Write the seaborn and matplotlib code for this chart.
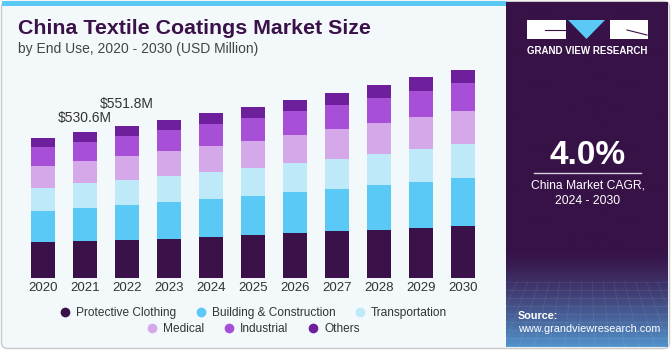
import numpy as np
import matplotlib
matplotlib.use("Agg")
import matplotlib.pyplot as plt
from matplotlib.patches import FancyBboxPatch, Rectangle, Polygon
from matplotlib.lines import Line2D
import seaborn as sns

# data (USD Million)
years = ["2020", "2021", "2022", "2023", "2024", "2025", "2026", "2027", "2028", "2029", "2030"]
protective = [131.7, 135.3, 139.0, 143.8, 149.9, 157.1, 163.2, 170.4, 176.5, 183.7, 191.0]
building = [113.6, 119.6, 125.4, 133.0, 137.8, 142.6, 148.7, 153.5, 160.8, 166.8, 174.1]
transport = [83.4, 89.4, 91.8, 94.3, 96.7, 101.5, 106.4, 110.0, 113.6, 119.7, 123.3]
medical = [78.5, 79.8, 85.6, 89.4, 94.3, 96.7, 100.3, 106.4, 111.2, 113.6, 118.5]
industrial = [68.9, 70.1, 73.7, 77.4, 79.8, 83.4, 87.0, 88.2, 91.9, 96.7, 100.3]
others = [33.8, 36.4, 36.3, 37.5, 39.9, 41.1, 42.3, 44.7, 47.1, 49.6, 49.6]

segments = ["Protective Clothing", "Building & Construction", "Transportation",
            "Medical", "Industrial", "Others"]
colors = ["#3a1149", "#5bc9f6", "#bee9f9", "#d5a8ea", "#a74fd7", "#6e1f9b"]
labels = {1: "$530.6M", 2: "$551.8M"}

FONT = "Liberation Sans"
W, H = 671, 350
fig = plt.figure(figsize=(W / 100, H / 100), dpi=100)
fig.patch.set_facecolor("white")

# background / frame in pixel coords
bg = fig.add_axes([0, 0, 1, 1])
bg.set_xlim(0, W)
bg.set_ylim(H, 0)
bg.axis("off")
bg.add_patch(FancyBboxPatch((1.5, 1.5), W - 3, H - 3, boxstyle="round,pad=0,rounding_size=6",
                            facecolor="#f3f8fb", edgecolor="#c9c9c9", lw=1))
bg.add_patch(Rectangle((2, 1), 504, 4.5, facecolor="#5bc9f6", lw=0))
# right panel with gradient to blue at the bottom
grad = np.linspace(0, 1, 200)
top = np.array([0x37, 0x12, 0x47]) / 255
bot = np.array([0x52, 0x92, 0xca]) / 255
t = np.clip((grad - 0.72) / 0.28, 0, 1) ** 1.3
img = top[None, :] * (1 - t[:, None]) + bot[None, :] * t[:, None]
bg.imshow(img[:, None, :], extent=(506, 668, 347, 2), aspect="auto", zorder=1)
for yy in np.linspace(282, 346, 9):
    bg.plot([506, 668], [yy, yy], color="white", alpha=0.08, lw=0.6, zorder=2)
for xx in np.linspace(506, 668, 16):
    bg.plot([xx, 587 + (xx - 587) * 1.4], [282, 347], color="white", alpha=0.08, lw=0.6, zorder=2)

# logo
bg.add_patch(Rectangle((527, 20), 39, 19, facecolor="white", lw=0, zorder=3))
bg.add_patch(Polygon([(568, 20), (605, 20), (586.5, 39)], facecolor="#5bc9f6", lw=0, zorder=3))
bg.add_patch(Rectangle((610, 20), 38, 19, facecolor="white", lw=0, zorder=3))
bg.plot([545, 566], [30, 30], color="#371247", lw=0.8, zorder=4)
bg.plot([627, 647], [30, 35], color="#371247", lw=0.8, zorder=4)
bg.text(587.5, 51, "GRAND VIEW RESEARCH", color="white", fontsize=7, fontweight="bold",
        ha="center", va="center", family=FONT, zorder=3)

bg.text(588, 155, "4.0%", color="white", fontsize=24, fontweight="bold",
        ha="center", va="center", family=FONT, zorder=3)
bg.plot([534, 641], [173, 173], color="#d9d0e0", lw=1, zorder=3)
bg.text(588, 185, "China Market CAGR,", color="white", fontsize=8.7,
        ha="center", va="center", family=FONT, zorder=3)
bg.text(588, 201, "2024 - 2030", color="white", fontsize=8.7,
        ha="center", va="center", family=FONT, zorder=3)
bg.text(518, 316, "Source:", color="white", fontsize=7.8, fontweight="bold",
        ha="left", va="center", family=FONT, zorder=3)
bg.text(518, 329, "www.grandviewresearch.com", color="white", fontsize=7.8,
        ha="left", va="center", family=FONT, zorder=3)

bg.text(18, 28, "China Textile Coatings Market Size", color="#3a1149", fontsize=15.4,
        fontweight="bold", ha="left", va="center", family=FONT)
bg.text(18, 49, "by End Use, 2020 - 2030 (USD Million)", color="#444444", fontsize=10,
        ha="left", va="center", family=FONT)

# bars
ax = fig.add_axes([17.8 / W, 71.7 / H, 470.7 / W, 220.6 / H])
ax.set_facecolor("none")
stack = np.array([protective, building, transport, medical, industrial, others])
cum = np.cumsum(stack, axis=0)
for i in range(len(segments) - 1, -1, -1):
    sns.barplot(x=years, y=cum[i], color=colors[i], width=0.57, saturation=1,
                linewidth=0, ax=ax)
totals = cum[-1]
label_gap = {1: 50, 2: 80}
for i, txt in labels.items():
    ax.text(i, totals[i] + label_gap[i], txt, ha="center", va="center", fontsize=10,
            color="#333333", family=FONT)
ax.set_xlim(-0.6, 10.6)
ax.set_ylim(0, 800)
ax.set_yticks([])
ax.set_xlabel("")
ax.set_ylabel("")
for s in ax.spines.values():
    s.set_visible(False)
ax.tick_params(axis="x", length=0, pad=3, labelsize=9.5, labelcolor="#333333")
for lab in ax.get_xticklabels():
    lab.set_family(FONT)

# legend in two centred rows
def handle(c):
    return Line2D([], [], marker="o", ls="", markersize=7, markerfacecolor=c, markeredgewidth=0)

leg_kw = dict(frameon=False, handlelength=1.0, handletextpad=0.4, columnspacing=1.6,
              prop={"family": FONT, "size": 8.6}, labelcolor="#333333")
fig.legend([handle(c) for c in colors[:3]], segments[:3], ncol=3,
           loc="center", bbox_to_anchor=(253 / W, 1 - 313 / H), **leg_kw)
fig.legend([handle(c) for c in colors[3:]], segments[3:], ncol=3,
           loc="center", bbox_to_anchor=(253 / W, 1 - 329 / H), **leg_kw)

fig.savefig("out.png", dpi=100, facecolor=fig.get_facecolor())
